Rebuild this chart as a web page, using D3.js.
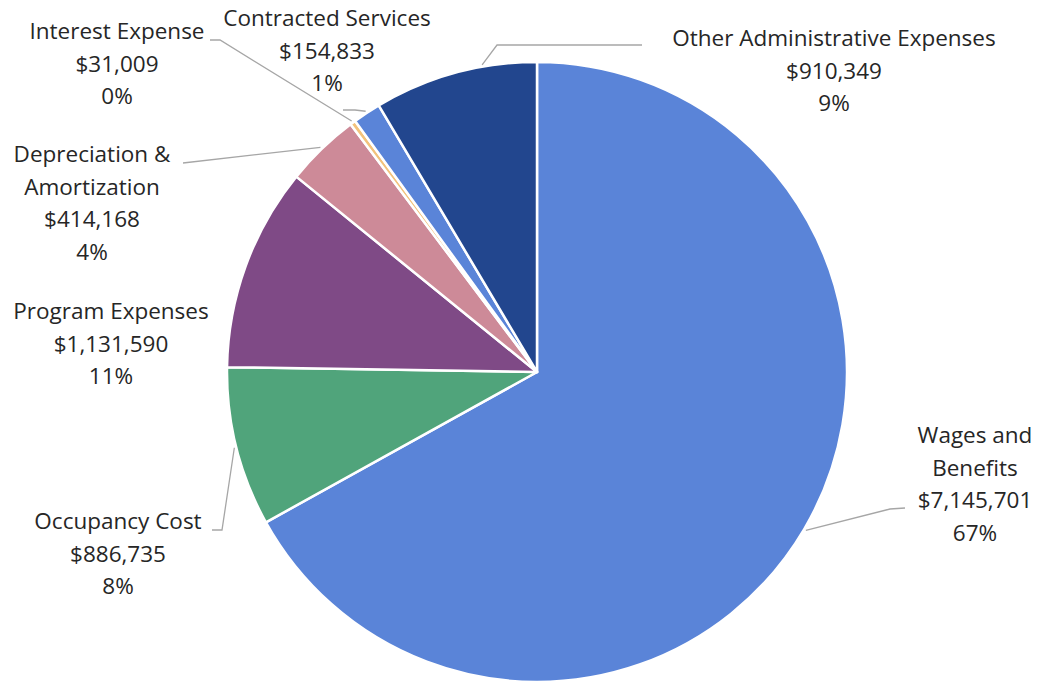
<!DOCTYPE html>
<html>
<head>
<meta charset="utf-8">
<script src="https://cdn.jsdelivr.net/npm/d3@7"></script>
<style>
  body { margin: 0; background: #fff; }
  svg text { font-family: "Open Sans", sans-serif; font-size: 22.5px; fill: #262626; }
</style>
</head>
<body>
<svg id="chart" width="1044" height="682"></svg>
<script>
const categories = ['Wages and Benefits', 'Occupancy Cost', 'Program Expenses', 'Depreciation & Amortization',
  'Interest Expense', 'Contracted Services', 'Other Administrative Expenses'];
const amounts = [7145701, 886735, 1131590, 414168, 31009, 154833, 910349];
const colors = ['#5a84d8', '#50a47b', '#7f4a86', '#cd8a98', '#f2c27c', '#5a84d8', '#22468e'];

// label lines as shown (wrapped like the original)
const labelLines = [
  ['Wages and', 'Benefits'],
  ['Occupancy Cost'],
  ['Program Expenses'],
  ['Depreciation &', 'Amortization'],
  ['Interest Expense'],
  ['Contracted Services'],
  ['Other Administrative Expenses']
];

const W = 1044, H = 682;
const cx = 537, cy = 372, R = 310;

// label layout: text centre x, first line y, leader elbow points (null = no leader), where on the slice the leader lands
const layout = [
  { x: 975, y: 437, elbow: [[905, 508], [890, 509]], frac: 0.5 },
  { x: 118, y: 523, elbow: [[212, 530], [222, 530]], frac: 0.5 },
  { x: 111, y: 313, elbow: null, frac: 0.5 },
  { x: 92, y: 156, elbow: [[183, 163]], frac: 0.5 },
  { x: 117, y: 33, elbow: [[210, 40], [220, 40]], frac: 0.5 },
  { x: 327, y: 20, elbow: [[343, 110], [355, 110]], frac: 0.5 },
  { x: 834, y: 40, elbow: [[642, 45], [497, 45]], frac: 0.67 }
];

const total = d3.sum(amounts);
const fmtMoney = v => '$' + d3.format(',')(v);
const fmtPct = v => Math.round(v / total * 100) + '%';

const svg = d3.select('#chart');
const g = svg.append('g').attr('transform', `translate(${cx},${cy})`);

const pie = d3.pie().sort(null).value(d => d);
const arcs = pie(amounts);
const arc = d3.arc().innerRadius(0).outerRadius(R);

g.selectAll('path.slice')
  .data(arcs)
  .join('path')
  .attr('class', 'slice')
  .attr('d', arc)
  .attr('fill', (d, i) => colors[i])
  .attr('stroke', '#fff')
  .attr('stroke-width', 2.5)
  .attr('stroke-linejoin', 'round');

// leader lines
const lineGen = d3.line();
arcs.forEach((a, i) => {
  const l = layout[i];
  if (!l.elbow) return;
  const ang = a.startAngle + (a.endAngle - a.startAngle) * l.frac;
  const r = R + 2;
  const end = [cx + r * Math.sin(ang), cy - r * Math.cos(ang)];
  svg.append('path')
    .attr('d', lineGen([...l.elbow, end]))
    .attr('fill', 'none')
    .attr('stroke', '#a6a6a6')
    .attr('stroke-width', 1.3);
});

// labels
const lineH = 32.5;
categories.forEach((c, i) => {
  const l = layout[i];
  const lines = [...labelLines[i], fmtMoney(amounts[i]), fmtPct(amounts[i])];
  const t = svg.append('text')
    .attr('x', l.x)
    .attr('y', l.y)
    .attr('text-anchor', 'middle');
  lines.forEach((s, k) => {
    t.append('tspan')
      .attr('x', l.x)
      .attr('y', l.y + k * lineH)
      .attr('dominant-baseline', 'middle')
      .text(s);
  });
});
</script>
</body>
</html>
